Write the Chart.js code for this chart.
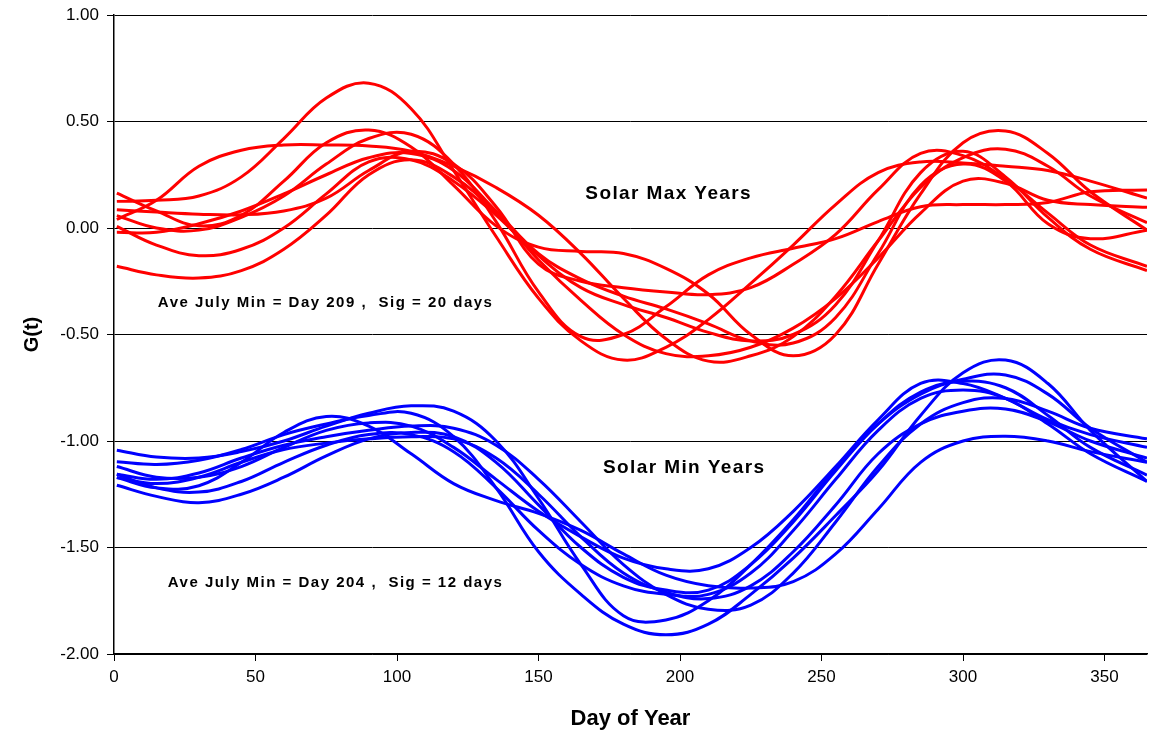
<!DOCTYPE html>
<html>
<head>
<meta charset="utf-8">
<script src="https://cdn.jsdelivr.net/npm/chart.js@4.4.1/dist/chart.umd.min.js"></script>
<style>
    html, body { margin: 0; padding: 0; background: #fff; }
    #wrap { width: 1153px; height: 733px; }
</style>
</head>
<body>
<div id="wrap"><canvas id="gt-chart" width="1153" height="733"></canvas></div>
<script>
// day of year where each curve was read
const days = [1, 15, 30, 45, 60, 75, 90, 105, 120, 135, 150, 165, 180, 195, 210, 225, 240, 255, 270, 285, 300, 315, 330, 345, 365];

// solar max years (red)
const max1 = [0.125, 0.13, 0.15, 0.24, 0.42, 0.61, 0.68, 0.56, 0.27, -0.04, -0.33, -0.53, -0.62, -0.56, -0.43, -0.26, -0.08, 0.11, 0.26, 0.31, 0.305, 0.29, 0.27, 0.22, 0.14];
const max2 = [0.04, 0.13, 0.29, 0.365, 0.39, 0.39, 0.385, 0.36, 0.29, 0.19, 0.06, -0.12, -0.33, -0.52, -0.625, -0.60, -0.51, -0.32, -0.06, 0.19, 0.33, 0.37, 0.29, 0.15, 0.025];
const max3 = [0.164, 0.08, 0.01, 0.06, 0.22, 0.40, 0.46, 0.38, 0.20, 0.01, -0.09, -0.11, -0.12, -0.19, -0.31, -0.50, -0.60, -0.50, -0.17, 0.16, 0.40, 0.455, 0.35, 0.17, -0.01];
const max4 = [0.058, 0.0, -0.01, 0.05, 0.15, 0.30, 0.42, 0.44, 0.30, 0.03, -0.30, -0.51, -0.50, -0.37, -0.22, -0.14, -0.095, -0.05, 0.03, 0.10, 0.11, 0.11, 0.12, 0.17, 0.178];
const max5 = [0.086, 0.075, 0.065, 0.062, 0.08, 0.14, 0.27, 0.36, 0.30, 0.10, -0.17, -0.25, -0.28, -0.30, -0.313, -0.28, -0.17, -0.03, 0.18, 0.35, 0.34, 0.23, 0.07, -0.08, -0.18];
const max6 = [0.008, -0.08, -0.13, -0.10, 0.0, 0.16, 0.31, 0.32, 0.22, 0.06, -0.13, -0.28, -0.36, -0.42, -0.49, -0.53, -0.50, -0.36, -0.06, 0.26, 0.36, 0.24, 0.05, -0.10, -0.20];
const max7 = [-0.18, -0.22, -0.235, -0.20, -0.10, 0.06, 0.25, 0.32, 0.24, 0.07, -0.15, -0.34, -0.50, -0.59, -0.60, -0.56, -0.47, -0.33, -0.14, 0.07, 0.22, 0.21, 0.13, 0.11, 0.097];
const max8 = [-0.02, -0.02, 0.02, 0.08, 0.16, 0.25, 0.33, 0.35, 0.27, 0.08, -0.12, -0.24, -0.32, -0.38, -0.45, -0.53, -0.54, -0.42, -0.12, 0.20, 0.30, 0.22, 0.02, -0.05, -0.01];

// solar min years (blue)
const min1 = [-1.043, -1.075, -1.08, -1.05, -1.0, -0.93, -0.87, -0.835, -0.86, -1.0, -1.27, -1.58, -1.82, -1.84, -1.75, -1.58, -1.37, -1.13, -0.92, -0.78, -0.71, -0.69, -0.78, -0.94, -1.10];
const min2 = [-1.172, -1.22, -1.21, -1.10, -0.96, -0.885, -0.93, -1.06, -1.20, -1.28, -1.34, -1.42, -1.53, -1.63, -1.68, -1.69, -1.66, -1.53, -1.32, -1.10, -1.0, -0.978, -1.0, -1.05, -1.10];
const min3 = [-1.097, -1.11, -1.09, -1.04, -0.97, -0.92, -0.88, -0.87, -0.98, -1.22, -1.52, -1.72, -1.86, -1.91, -1.86, -1.72, -1.55, -1.35, -1.14, -0.88, -0.68, -0.62, -0.73, -0.95, -1.19];
const min4 = [-1.12, -1.17, -1.17, -1.12, -1.03, -0.95, -0.915, -0.93, -1.03, -1.18, -1.33, -1.45, -1.55, -1.60, -1.60, -1.50, -1.33, -1.12, -0.90, -0.73, -0.73, -0.80, -0.90, -0.97, -1.03];
const min5 = [-1.156, -1.18, -1.15, -1.08, -1.02, -0.98, -0.95, -0.93, -0.94, -1.02, -1.18, -1.38, -1.58, -1.72, -1.79, -1.77, -1.62, -1.38, -1.12, -0.92, -0.82, -0.80, -0.86, -0.94, -0.99];
const min6 = [-1.208, -1.26, -1.29, -1.25, -1.17, -1.07, -0.99, -0.96, -0.98, -1.10, -1.30, -1.50, -1.64, -1.70, -1.70, -1.58, -1.38, -1.14, -0.92, -0.77, -0.72, -0.75, -0.88, -1.03, -1.16];
const min7 = [-1.172, -1.20, -1.17, -1.10, -1.04, -1.01, -0.99, -0.98, -0.99, -1.08, -1.25, -1.45, -1.62, -1.71, -1.74, -1.68, -1.52, -1.30, -1.06, -0.92, -0.86, -0.85, -0.91, -1.0, -1.08];
const min8 = [-1.156, -1.22, -1.24, -1.19, -1.10, -1.02, -0.97, -0.97, -1.05, -1.22, -1.42, -1.58, -1.68, -1.72, -1.72, -1.62, -1.42, -1.18, -0.95, -0.80, -0.76, -0.80, -0.92, -1.06, -1.19];

const yTicks = [-2.0, -1.5, -1.0, -0.5, 0.0, 0.5, 1.0];
const xTicks = [0, 50, 100, 150, 200, 250, 300, 350];

const notes = [
    {text: 'Solar Max Years', day: 196, value: 0.16, size: 19, spacing: '1.4px', align: 'center'},
    {text: 'Solar Min Years', day: 201.5, value: -1.125, size: 19, spacing: '1.4px', align: 'center'},
    {text: 'Ave July Min = Day 209 ,  Sig = 20 days', day: 15.5, value: -0.35, size: 15, spacing: '1.5px', align: 'left'},
    {text: 'Ave July Min = Day 204 ,  Sig = 12 days', day: 19, value: -1.667, size: 15, spacing: '1.5px', align: 'left'}
];

const fontFamily = 'Arial, "Liberation Sans", Helvetica, sans-serif';

function makeDataset(values, color) {
    return {
        data: days.map((d, i) => ({x: d, y: values[i]})),
        borderColor: color,
        borderWidth: 3,
        pointRadius: 0,
        tension: 0.4,
        fill: false
    };
}

const notesPlugin = {
    id: 'notes',
    afterDatasetsDraw(chart) {
        const ctx = chart.ctx;
        const xs = chart.scales.x;
        const ys = chart.scales.y;
        ctx.save();
        ctx.fillStyle = '#000';
        ctx.textBaseline = 'middle';
        notes.forEach(n => {
            ctx.font = 'bold ' + n.size + 'px ' + fontFamily;
            ctx.letterSpacing = n.spacing;
            ctx.textAlign = n.align;
            ctx.fillText(n.text, xs.getPixelForValue(n.day), ys.getPixelForValue(n.value));
        });
        ctx.restore();
    }
};

function drawGtChart() {
    const datasets = [];
    [max1, max2, max3, max4, max5, max6, max7, max8].forEach(v => datasets.push(makeDataset(v, '#ff0000')));
    [min1, min2, min3, min4, min5, min6, min7, min8].forEach(v => datasets.push(makeDataset(v, '#0000ff')));

    const chartConfig = {
        type: 'line',
        data: {datasets: datasets},
        options: {
            responsive: false,
            animation: false,
            events: [],
            layout: {padding: {top: 15, right: 6, left: 20, bottom: 0}},
            plugins: {
                legend: {display: false},
                tooltip: {enabled: false}
            },
            scales: {
                x: {
                    type: 'linear',
                    min: 0,
                    max: 365,
                    afterBuildTicks: (scale) => {
                        scale.ticks = xTicks.map(v => ({value: v}));
                    },
                    afterFit: (scale) => {
                        scale.height = 79;
                    },
                    ticks: {
                        color: '#000',
                        font: {family: fontFamily, size: 17},
                        padding: 6,
                        maxRotation: 0
                    },
                    grid: {
                        drawOnChartArea: false,
                        color: '#000',
                        tickLength: 7,
                        tickColor: '#000'
                    },
                    border: {color: '#000', width: 1.5},
                    title: {
                        display: true,
                        text: 'Day of Year',
                        color: '#000',
                        font: {family: fontFamily, size: 22, weight: 'bold'},
                        padding: {top: 0, bottom: 1}
                    }
                },
                y: {
                    min: -2,
                    max: 1,
                    afterBuildTicks: (scale) => {
                        scale.ticks = yTicks.map(v => ({value: v}));
                    },
                    afterFit: (scale) => {
                        scale.width = 94;
                        scale.paddingTop = 0;
                        scale.paddingBottom = 0;
                    },
                    ticks: {
                        color: '#000',
                        font: {family: fontFamily, size: 17},
                        padding: 8,
                        callback: (v) => Number(v).toFixed(2)
                    },
                    grid: {
                        color: '#000',
                        lineWidth: 1,
                        tickLength: 7,
                        tickColor: '#000'
                    },
                    border: {color: '#000', width: 1.5},
                    title: {
                        display: true,
                        text: 'G(t)',
                        color: '#000',
                        font: {family: fontFamily, size: 20, weight: 'bold'},
                        padding: {top: 0, bottom: 0}
                    }
                }
            }
        },
        plugins: [notesPlugin]
    };

    const canvas = document.querySelector('#gt-chart');
    if (canvas) {
        const gtChart = new Chart(canvas, chartConfig);
    }
}

drawGtChart();
</script>
</body>
</html>
